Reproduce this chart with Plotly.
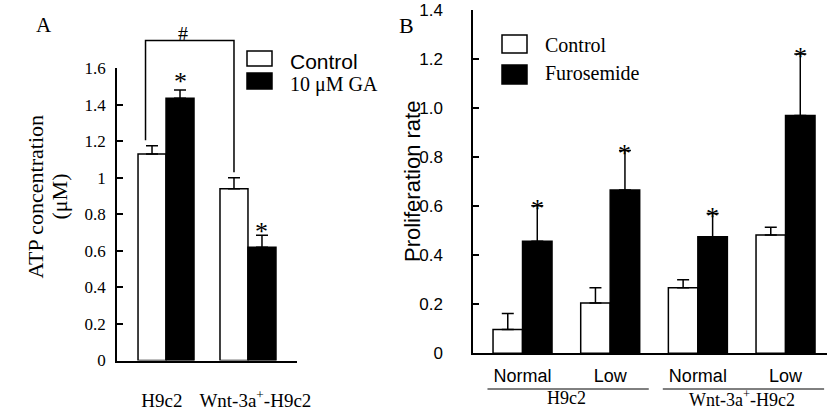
import plotly.graph_objects as go

W, H = 827, 410
SERIF = "Liberation Serif"
SANS = "Liberation Sans"

# ---------------- data ----------------
# Panel A
a_groups = ["H9c2", "Wnt-3a<sup>+</sup>-H9c2"]
a_control = [1.13, 0.94]
a_control_err = [0.045, 0.06]
a_ga = [1.435, 0.62]
a_ga_err = [0.045, 0.065]
a_yticks = [0, 0.2, 0.4, 0.6, 0.8, 1.0, 1.2, 1.4, 1.6]
a_yticklabels = ["0", "0.2", "0.4", "0.6", "0.8", "1", "1.2", "1.4", "1.6"]
a_series = ["Control", "10 μM GA"]
a_ytitle = ["ATP concentration", "(μM)"]

# Panel B
b_conditions = ["Normal", "Low", "Normal", "Low"]
b_cell_lines = ["H9c2", "Wnt-3a<sup>+</sup>-H9c2"]
b_control = [0.097, 0.205, 0.268, 0.483]
b_control_err = [0.065, 0.063, 0.032, 0.031]
b_furo = [0.457, 0.667, 0.476, 0.971]
b_furo_err = [0.145, 0.161, 0.095, 0.251]
b_yticks = [0, 0.2, 0.4, 0.6, 0.8, 1.0, 1.2, 1.4]
b_yticklabels = ["0", "0.2", "0.4", "0.6", "0.8", "1.0", "1.2", "1.4"]
b_series = ["Control", "Furosemide"]
b_ytitle = "Proliferation rate"

# ---------------- layout geometry ----------------
A_X0, A_X1, A_Y0, A_Y1 = 117, 297, 360.5, 68
B_X0, B_X1, B_Y0, B_Y1 = 473, 827, 353.3, 10.3
A_RANGE_X = [-0.598, 1.598]
A_RANGE_Y = [0, 1.6]
B_RANGE_X = [-0.565, 3.473]
B_RANGE_Y = [0, 1.4]
A_BW = 0.3415
B_BW = 0.3365
A_TICK_SHIFT = [-0.05, 0.09]   # small label offsets (style)


def px(x):
    return x / W


def py(y):
    return 1 - y / H


def a_val_to_paper(v):
    ypix = A_Y0 - (v - A_RANGE_Y[0]) / (A_RANGE_Y[1] - A_RANGE_Y[0]) * (A_Y0 - A_Y1)
    return py(ypix)


ax = list(range(len(a_groups)))
bx = list(range(len(b_conditions)))

err_style = dict(color="black", thickness=1.5, width=6)
outline = dict(color="black", width=1.5)

fig = go.Figure()
fig.add_trace(go.Bar(x=ax, y=a_control, width=A_BW, offset=-A_BW, name=a_series[0],
                     marker=dict(color="white", line=outline),
                     error_y=dict(type="data", array=a_control_err, arrayminus=[0] * len(ax),
                                  symmetric=False, **err_style),
                     xaxis="x", yaxis="y"))
fig.add_trace(go.Bar(x=ax, y=a_ga, width=A_BW, offset=0, name=a_series[1],
                     marker=dict(color="black", line=outline),
                     error_y=dict(type="data", array=a_ga_err, arrayminus=[0] * len(ax),
                                  symmetric=False, **err_style),
                     xaxis="x", yaxis="y"))
fig.add_trace(go.Bar(x=bx, y=b_control, width=B_BW, offset=-B_BW, name=b_series[0],
                     marker=dict(color="white", line=outline),
                     error_y=dict(type="data", array=b_control_err, arrayminus=[0] * len(bx),
                                  symmetric=False, **err_style),
                     xaxis="x2", yaxis="y2"))
fig.add_trace(go.Bar(x=bx, y=b_furo, width=B_BW, offset=0, name=b_series[1],
                     marker=dict(color="black", line=outline),
                     error_y=dict(type="data", array=b_furo_err, arrayminus=[0] * len(bx),
                                  symmetric=False, **err_style),
                     xaxis="x2", yaxis="y2"))

annotations = []
shapes = []

# significance asterisks
for i in ax:
    annotations.append(dict(x=i + A_BW / 2, y=a_ga[i] + a_ga_err[i], xref="x", yref="y",
                            text="*", showarrow=False, yanchor="middle", yshift=4 + 4 * (1 - i),
                            font=dict(family=SERIF, size=26, color="black")))
for i in bx:
    annotations.append(dict(x=i + B_BW / 2, y=b_furo[i] + b_furo_err[i], xref="x2", yref="y2",
                            text="*", showarrow=False, yanchor="middle", yshift=-3,
                            font=dict(family=SERIF, size=26, color="black")))

# bracket with '#'
BR_TOP = 1.75
BR_GAP = 0.03
left_x = ax[0] - 0.25
right_x = ax[1] - A_BW / 2
left_bot = a_control[0] + a_control_err[0] + BR_GAP
right_bot = a_control[1] + a_control_err[1] + BR_GAP
shapes.append(dict(type="path", xref="x", yref="paper",
                   path=f"M {left_x},{a_val_to_paper(left_bot)} L {left_x},{a_val_to_paper(BR_TOP)} "
                        f"L {right_x},{a_val_to_paper(BR_TOP)} L {right_x},{a_val_to_paper(right_bot)}",
                   line=dict(color="black", width=1.5)))
annotations.append(dict(x=0.21, y=a_val_to_paper(BR_TOP), xref="x", yref="paper", text="#",
                        showarrow=False, yanchor="middle", yshift=7,
                        font=dict(family=SERIF, size=20, color="black")))

# panel letters
annotations.append(dict(x=px(34), y=py(25), xref="paper", yref="paper", text="A", showarrow=False,
                        yanchor="middle", font=dict(family=SERIF, size=21, color="black")))
annotations.append(dict(x=px(406), y=py(25), xref="paper", yref="paper", text="B", showarrow=False,
                        yanchor="middle", font=dict(family=SERIF, size=22, color="black")))

# axis titles
annotations.append(dict(x=px(20), y=py(197), xref="paper", yref="paper",
                        text=a_ytitle[0], textangle=-90, showarrow=False, yanchor="middle",
                        font=dict(family=SERIF, size=22, color="black")))
annotations.append(dict(x=px(44), y=py(197), xref="paper", yref="paper",
                        text=a_ytitle[1], textangle=-90, showarrow=False, yanchor="middle",
                        font=dict(family=SERIF, size=22, color="black")))
annotations.append(dict(x=px(413), y=py(182), xref="paper", yref="paper",
                        text=b_ytitle, textangle=-90, showarrow=False, yanchor="middle",
                        font=dict(family=SANS, size=22, color="black")))

# legends (drawn manually)
leg_a = [(51, 66, "white", f'<span style="font-family:{SANS}">{a_series[0]}</span>', 61, 21),
         (73, 89, "black", a_series[1], 85, 20)]
for y0, y1, col, txt, ty, fs in leg_a:
    shapes.append(dict(type="rect", xref="paper", yref="paper", x0=px(247), x1=px(272),
                       y0=py(y1), y1=py(y0), fillcolor=col, line=dict(color="black", width=1.5)))
    annotations.append(dict(x=px(288), y=py(ty), xref="paper", yref="paper", text=txt,
                            xanchor="left", yanchor="middle", showarrow=False,
                            font=dict(family=SERIF, size=fs, color="black")))
leg_b = [(35, 53, "white", b_series[0], 45), (65, 84, "black", b_series[1], 73)]
for y0, y1, col, txt, ty in leg_b:
    shapes.append(dict(type="rect", xref="paper", yref="paper", x0=px(502), x1=px(527),
                       y0=py(y1), y1=py(y0), fillcolor=col, line=dict(color="black", width=1.5)))
    annotations.append(dict(x=px(543), y=py(ty), xref="paper", yref="paper", text=txt,
                            xanchor="left", yanchor="middle", showarrow=False,
                            font=dict(family=SERIF, size=20, color="black")))

# group lines and labels in panel B
GROUP_PAD_L, GROUP_PAD_R = 0.40, 0.44
for g, name in enumerate(b_cell_lines):
    first = bx[2 * g]
    last = bx[2 * g + 1]
    shapes.append(dict(type="line", xref="x2", yref="paper", x0=first - GROUP_PAD_L,
                       x1=last + GROUP_PAD_R, y0=py(389), y1=py(389),
                       line=dict(color="black", width=1)))
    annotations.append(dict(x=(first + last) / 2, y=py(398), xref="x2", yref="paper", text=name,
                            showarrow=False, yanchor="middle",
                            font=dict(family=SERIF, size=18, color="black")))

axis_common = dict(showline=True, linecolor="black", linewidth=1.5, showgrid=False,
                   zeroline=False, color="black", automargin=False, tickangle=0)

fig.update_layout(
    template="none",
    width=W, height=H, autosize=False,
    margin=dict(l=0, r=0, t=0, b=0, pad=0),
    paper_bgcolor="white", plot_bgcolor="white",
    showlegend=False, barmode="overlay",
    xaxis=dict(domain=[px(A_X0), px(A_X1)], range=A_RANGE_X, anchor="y",
               tickvals=[i + s for i, s in zip(ax, A_TICK_SHIFT)], ticktext=a_groups,
               ticks="", ticklabelstandoff=22,
               tickfont=dict(family=SERIF, size=19, color="black"), **axis_common),
    yaxis=dict(domain=[py(A_Y0), py(A_Y1)], range=A_RANGE_Y, anchor="x",
               tickvals=a_yticks, ticktext=a_yticklabels, ticks="inside", ticklen=6,
               tickwidth=1.5, tickcolor="black", ticklabelstandoff=6,
               tickfont=dict(family=SERIF, size=17, color="black"), **axis_common),
    xaxis2=dict(domain=[px(B_X0), px(B_X1)], range=B_RANGE_X, anchor="y2",
                tickvals=bx, ticktext=b_conditions, ticks="", ticklabelstandoff=5,
                tickfont=dict(family=SANS, size=18, color="black"), **axis_common),
    yaxis2=dict(domain=[py(B_Y0), py(B_Y1)], range=B_RANGE_Y, anchor="x2",
                tickvals=b_yticks, ticktext=b_yticklabels, ticks="inside", ticklen=6,
                tickwidth=1.5, tickcolor="black", ticklabelstandoff=25,
                tickfont=dict(family=SANS, size=17, color="black"), **axis_common),
    annotations=annotations, shapes=shapes,
)

fig.write_html("out.html", config={"displayModeBar": False},
               post_script="document.body.style.margin='0';document.body.style.overflow='hidden';")
